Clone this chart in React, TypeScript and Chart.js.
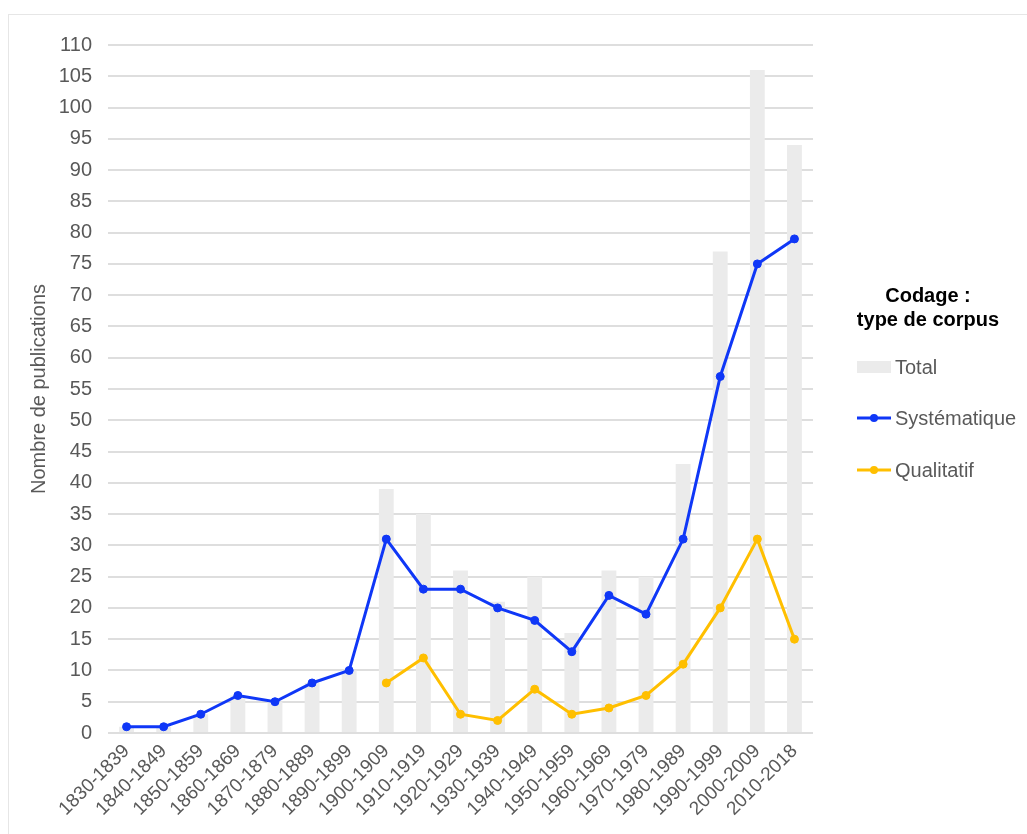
import React, { useEffect, useRef } from "react";
import { Chart, registerables } from "chart.js";

Chart.register(...registerables);

const categories = [
  "1830-1839", "1840-1849", "1850-1859", "1860-1869", "1870-1879", "1880-1889",
  "1890-1899", "1900-1909", "1910-1919", "1920-1929", "1930-1939", "1940-1949",
  "1950-1959", "1960-1969", "1970-1979", "1980-1989", "1990-1999", "2000-2009",
  "2010-2018",
];
const totalValues = [1, 1, 3, 6, 5, 8, 10, 39, 35, 26, 21, 25, 16, 26, 25, 43, 77, 106, 94];
const systematiqueValues = [1, 1, 3, 6, 5, 8, 10, 31, 23, 23, 20, 18, 13, 22, 19, 31, 57, 75, 79];
const qualitatifValues = [null, null, null, null, null, null, null, 8, 12, 3, 2, 7, 3, 4, 6, 11, 20, 31, 15];

const legendTitle = ["Codage :", "type de corpus"];
const yAxisTitle = "Nombre de publications";

const BLUE = "#0F37F7";
const GOLD = "#FFBF00";
const GRAY_BAR = "#EBEBEB";
const TEXT = "#595959";
const FONT = "'Liberation Sans', Arial, sans-serif";

const legendPlugin = {
  id: "customLegend",
  afterDraw(chart: any) {
    const ctx = chart.ctx;
    ctx.save();
    ctx.fillStyle = "#000";
    ctx.font = `bold 20px ${FONT}`;
    ctx.textAlign = "center";
    ctx.textBaseline = "middle";
    ctx.fillText(legendTitle[0], 919, 281);
    ctx.fillText(legendTitle[1], 919, 305);

    const items = [
      { label: chart.data.datasets[2].label, type: "bar", color: GRAY_BAR, y: 352 },
      { label: chart.data.datasets[0].label, type: "line", color: BLUE, y: 403 },
      { label: chart.data.datasets[1].label, type: "line", color: GOLD, y: 455 },
    ];
    const x0 = 848;
    const x1 = 882;
    ctx.font = `20px ${FONT}`;
    ctx.textAlign = "left";
    for (const it of items) {
      if (it.type === "bar") {
        ctx.fillStyle = it.color;
        ctx.fillRect(x0, it.y - 6, x1 - x0, 12);
      } else {
        ctx.strokeStyle = it.color;
        ctx.lineWidth = 3;
        ctx.beginPath();
        ctx.moveTo(x0, it.y);
        ctx.lineTo(x1, it.y);
        ctx.stroke();
        ctx.fillStyle = it.color;
        ctx.beginPath();
        ctx.arc((x0 + x1) / 2, it.y, 4, 0, Math.PI * 2);
        ctx.fill();
      }
      ctx.fillStyle = TEXT;
      ctx.fillText(it.label, 886, it.y + 1);
    }
    ctx.restore();
  },
};

export default function App() {
  const canvasRef = useRef<HTMLCanvasElement | null>(null);

  useEffect(() => {
    if (!canvasRef.current) return;
    const chart = new Chart(canvasRef.current, {
      type: "bar",
      data: {
        labels: categories,
        datasets: [
          {
            type: "line",
            label: "Systématique",
            data: systematiqueValues,
            borderColor: BLUE,
            backgroundColor: BLUE,
            borderWidth: 3,
            pointRadius: 4,
            pointBorderWidth: 1,
            pointBackgroundColor: BLUE,
            pointBorderColor: BLUE,
            tension: 0,
            order: 0,
          } as any,
          {
            type: "line",
            label: "Qualitatif",
            data: qualitatifValues,
            borderColor: GOLD,
            backgroundColor: GOLD,
            borderWidth: 3,
            pointRadius: 4,
            pointBorderWidth: 1,
            pointBackgroundColor: GOLD,
            pointBorderColor: GOLD,
            tension: 0,
            order: 1,
          } as any,
          {
            type: "bar",
            label: "Total",
            data: totalValues,
            backgroundColor: GRAY_BAR,
            categoryPercentage: 1,
            barPercentage: 0.4,
            order: 2,
          } as any,
        ],
      },
      options: {
        animation: false,
        responsive: false,
        devicePixelRatio: 1,
        layout: { padding: { left: 0, top: 30, right: 214, bottom: 0 } },
        plugins: {
          legend: { display: false },
          tooltip: { enabled: false },
        },
        scales: {
          x: {
            offset: true,
            grid: { display: false, drawTicks: false },
            border: { display: false },
            ticks: {
              color: TEXT,
              font: { family: FONT, size: 19 },
              minRotation: 45,
              maxRotation: 45,
              autoSkip: false,
              padding: 7,
            },
            afterFit(scale: any) {
              scale.height = 101;
            },
          },
          y: {
            min: 0,
            max: 110,
            ticks: {
              stepSize: 5,
              color: TEXT,
              font: { family: FONT, size: 20 },
              padding: 16,
            },
            grid: { color: "#DEDEDE", lineWidth: 2, drawTicks: false },
            border: { display: false },
            title: {
              display: true,
              text: yAxisTitle,
              color: TEXT,
              font: { family: FONT, size: 20 },
              padding: { top: 18, bottom: 0 },
            },
            afterFit(scale: any) {
              scale.width = 99;
            },
          },
        },
      },
      plugins: [legendPlugin],
    });
    return () => chart.destroy();
  }, []);

  return (
    <div
      style={{
        position: "fixed",
        left: 8,
        top: 14,
        width: 1019,
        height: 820,
        borderTop: "1px solid #E6E6E6",
        borderLeft: "1px solid #E6E6E6",
        background: "#fff",
      }}
    >
      <canvas ref={canvasRef} width={1018} height={819} style={{ display: "block" }} />
    </div>
  );
}
